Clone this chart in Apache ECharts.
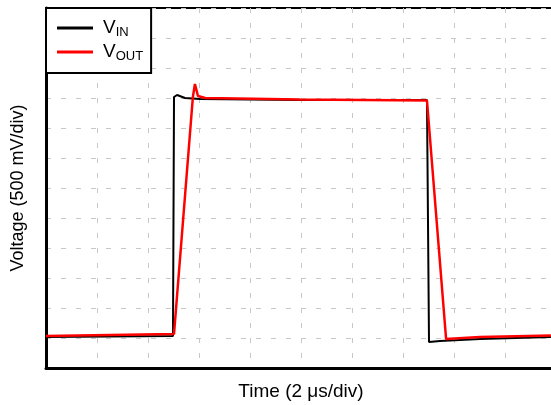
<!DOCTYPE html>
<html>
<head>
<meta charset="utf-8">
<script src="https://cdn.jsdelivr.net/npm/echarts@6/dist/echarts.min.js"></script>
<style>
  html, body { margin: 0; padding: 0; background: #fff; }
  #chart { width: 551px; height: 405px; }
</style>
</head>
<body>
<div id="chart"></div>
<script>
// 时间 (µs) / 电压 (V)
var vinTime = [0, 4.98, 5.02, 5.14, 5.45, 6.04, 9.96, 14.94, 15.02, 15.45, 17.02, 19.8];
var vinVolt = [0.517, 0.533, 4.517, 4.55, 4.5, 4.483, 4.467, 4.467, 0.433, 0.45, 0.483, 0.517];
var voutTime = [0, 5.02, 5.76, 5.84, 5.96, 6.24, 9.96, 14.94, 15.69, 17.02, 19.8];
var voutVolt = [0.533, 0.567, 4.517, 4.733, 4.533, 4.5, 4.475, 4.458, 0.483, 0.517, 0.542];
var seriesNames = ["VIN", "VOUT"];
var legendSub = { VIN: "IN", VOUT: "OUT" };

function pairs(xs, ys) {
  return xs.map(function (x, i) { return [x, ys[i]]; });
}

var chart = echarts.init(document.getElementById("chart"));

var splitStyle = {
  show: true,
  lineStyle: { color: "#c8c8c8", width: 1, type: [5, 10] }
};

var option = {
  animation: false,
  grid: {
    left: 46,
    top: 8,
    width: 510,
    height: 360,
    outerBoundsMode: "none",
    show: true,
    borderColor: "#000",
    borderWidth: 2
  },
  legend: {
    orient: "vertical",
    left: 46,
    top: 8,
    padding: [9, 8, 10, 11],
    itemGap: 2,
    itemWidth: 36,
    itemHeight: 3,
    icon: "rect",
    backgroundColor: "#fff",
    borderColor: "#000",
    borderWidth: 2,
    borderRadius: 0,
    data: seriesNames,
    formatter: function (name) {
      return "{v|V}{s|" + legendSub[name] + "}";
    },
    textStyle: {
      rich: {
        v: { fontFamily: "Liberation Sans", fontSize: 19, color: "#000", lineHeight: 22, padding: [0, 0, 0, 5] },
        s: { fontFamily: "Liberation Sans", fontSize: 13, color: "#000", verticalAlign: "bottom", lineHeight: 22, padding: [9, 0, 0, 0] }
      }
    }
  },
  xAxis: {
    type: "value",
    min: 0,
    max: 20,
    interval: 2,
    name: "Time (2 μs/div)",
    nameLocation: "middle",
    nameGap: 14,
    nameTextStyle: { fontFamily: "Liberation Sans", fontSize: 19, color: "#000" },
    axisLine: { show: true, onZero: false, lineStyle: { color: "#000", width: 3 } },
    axisTick: { show: false },
    axisLabel: { show: false },
    splitLine: splitStyle
  },
  yAxis: {
    type: "value",
    min: 0,
    max: 6,
    interval: 0.5,
    name: "Voltage (500 mV/div)",
    nameLocation: "middle",
    nameGap: 19,
    nameTextStyle: { fontFamily: "Liberation Sans", fontSize: 18, color: "#000" },
    axisLine: { show: true, onZero: false, lineStyle: { color: "#000", width: 3 } },
    axisTick: { show: false },
    axisLabel: { show: false },
    splitLine: splitStyle
  },
  series: [
    {
      name: "VIN",
      type: "line",
      data: pairs(vinTime, vinVolt),
      symbol: "none",
      color: "#000",
      lineStyle: { width: 2, color: "#000" }
    },
    {
      name: "VOUT",
      type: "line",
      data: pairs(voutTime, voutVolt),
      symbol: "none",
      color: "#ff0000",
      lineStyle: { width: 2.5, color: "#ff0000" }
    }
  ]
};

chart.setOption(option);
</script>
</body>
</html>
